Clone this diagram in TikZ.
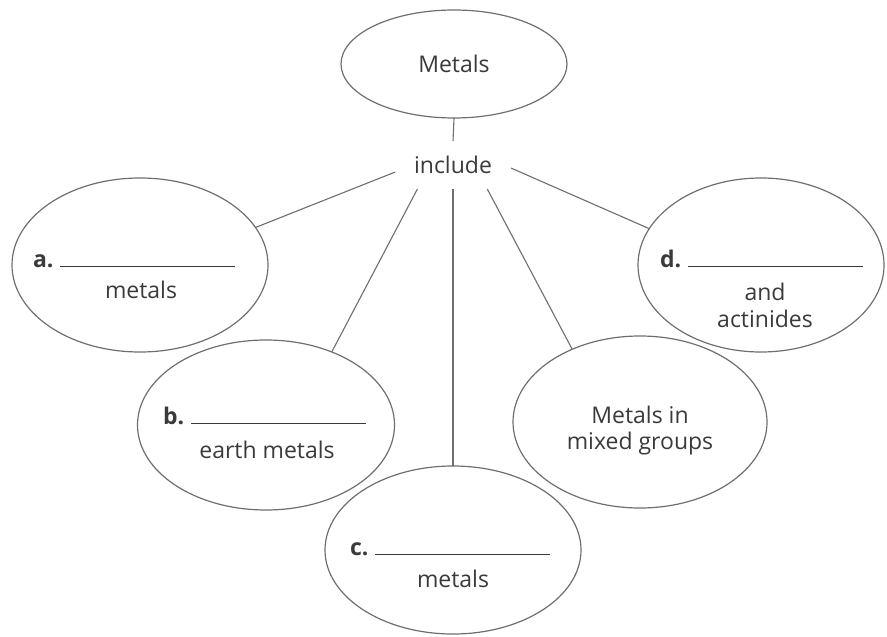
\documentclass[tikz,border=0pt]{standalone}
\usepackage{fontspec}
\setmainfont{Open Sans}
\usetikzlibrary{shapes.geometric}
\usetikzlibrary{positioning}

\definecolor{inkgray}{HTML}{3A3A3A}
\definecolor{linegray}{HTML}{6E6E6E}

\tikzset{
  oval/.style={ellipse, draw=linegray, line width=0.6pt, inner sep=0pt, outer sep=0pt,
    text=inkgray, font=\fontsize{11.5}{13}\selectfont, align=center},
  word/.style={text=inkgray, font=\fontsize{11.5}{13}\selectfont, inner sep=0pt, outer sep=0pt},
  blank/.style={word, anchor=base west},
  link/.style={draw=linegray, line width=0.55pt},
}
\newcommand{\answerline}{\hspace{3.5pt}\rule{87.5pt}{0.7pt}}

\begin{document}
\begin{tikzpicture}[x=0.5pt, y=-0.5pt]
  \useasboundingbox (0,0) rectangle (887,636);

  % Ovals
  \node[oval, minimum width=113pt, minimum height=54pt] (metals) at (454,64) {Metals};
  \node[oval, minimum width=128pt, minimum height=87pt] (a) at (140,265) {};
  \node[oval, minimum width=128.5pt, minimum height=85pt] (b) at (266,425) {};
  \node[oval, minimum width=128pt, minimum height=84pt] (c) at (453,550) {};
  \node[oval, minimum width=127pt, minimum height=86pt] (mixed) at (640,422) {};
  \node[oval, minimum width=123pt, minimum height=87pt] (d) at (761,265) {};

  % Texts
  \node[word, minimum width=58pt, minimum height=24pt] (incl) at (453,165) {include};
  \node[blank] (aline) at (33,267) {\textbf{a.}\answerline};
  \node[word, anchor=base] (atext) at (141,298) {metals};
  \node[blank] (bline) at (163,424) {\textbf{b.}\answerline};
  \node[word, anchor=base] (btext) at (267,458) {earth metals};
  \node[blank] (cline) at (350,555) {\textbf{c.}\answerline};
  \node[word, anchor=base] (ctext) at (453,587) {metals};
  \node[blank] (dline) at (660,267) {\textbf{d.}\answerline};
  \node[word, anchor=base] (dtext) at (765,300) {and};
  \node[word, anchor=base] (dtext2) at (765,327) {actinides};
  \node[word, align=center] (mixedtext) at (640,431) {Metals in\\mixed groups};

  % Edges
  \draw[link] (metals.south) to (incl.north);
  \draw[link] (incl.187) to (a.18);
  \draw[link] (incl.214) to (b.48);
  \draw[link] (incl.south) to (c.north);
  \draw[link] (incl.325) to (mixed.133);
  \draw[link] (incl.357) to (d.162);
\end{tikzpicture}
\end{document}
